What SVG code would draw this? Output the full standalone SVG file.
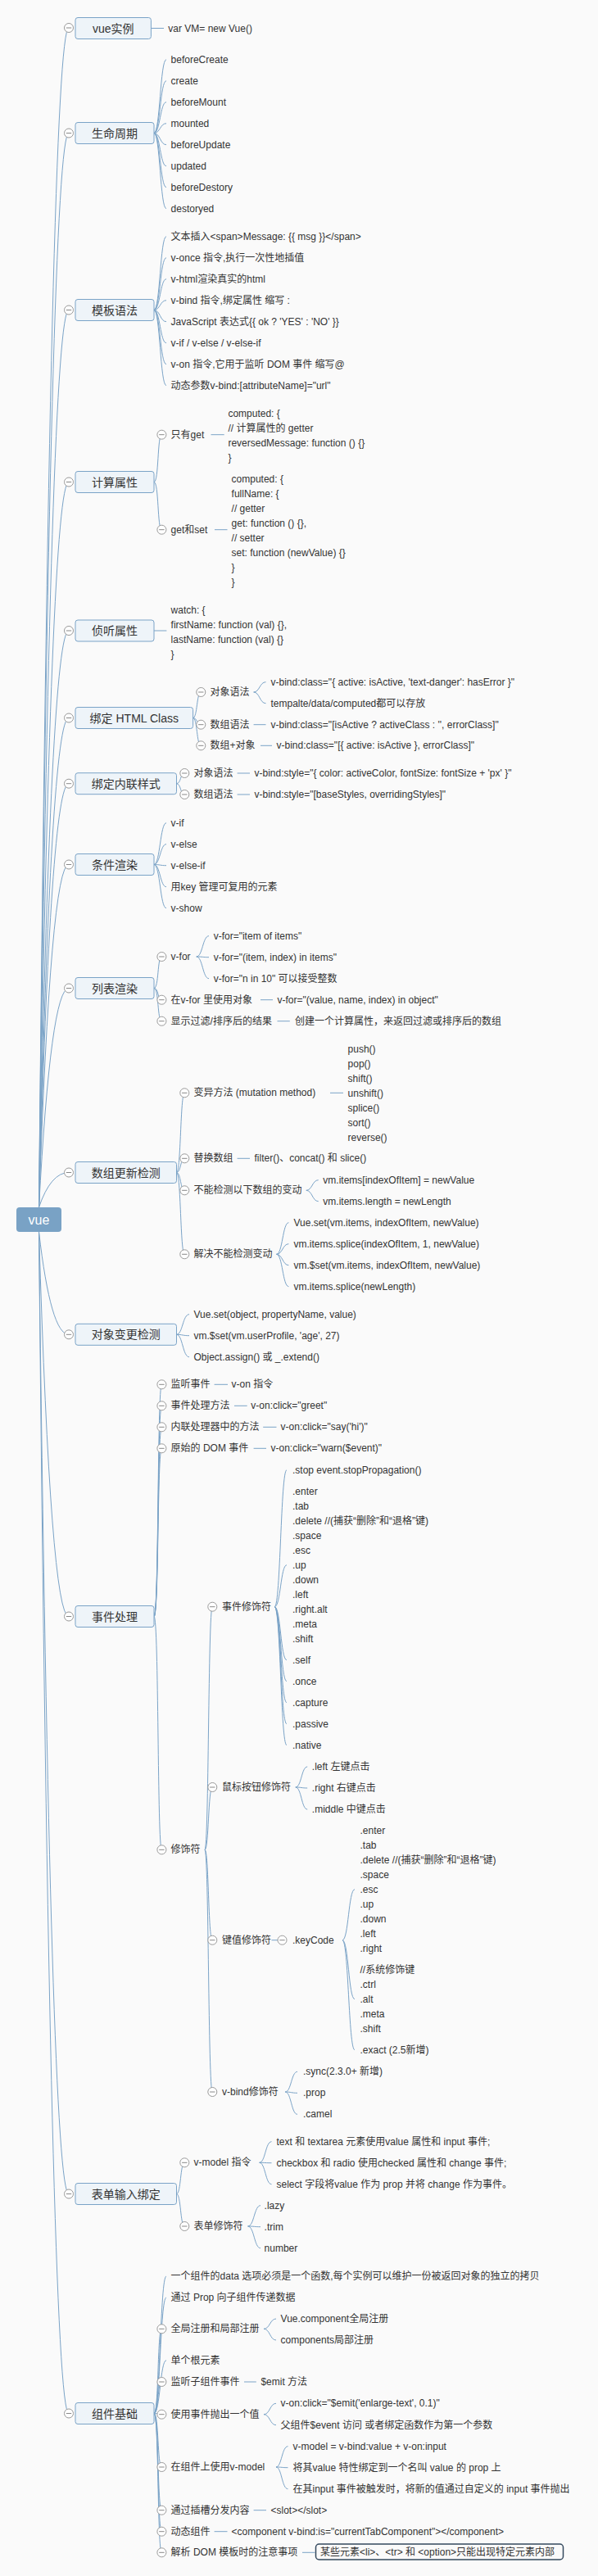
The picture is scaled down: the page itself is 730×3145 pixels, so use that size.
<svg xmlns="http://www.w3.org/2000/svg" xmlns:xlink="http://www.w3.org/1999/xlink" width="730" height="3145" viewBox="0 0 730 3145">
<style>
text{font-family:"Liberation Sans","Noto Sans CJK SC",sans-serif;font-size:12px;fill:#333}
.m{font-size:14px;text-anchor:middle}
.box{fill:#eef4f9;stroke:#7aa3c7;stroke-width:1}
.c path{fill:none;stroke:#7aa3c7;stroke-width:1}
.fc{fill:#fff;stroke:#999;stroke-width:1}
.fl{stroke:#888;stroke-width:1}
</style>
<defs>
<g id="fold"><circle class="fc" r="5.5"/><line class="fl" x1="-3.2" y1="0" x2="3.2" y2="0"/></g>
</defs>
<rect width="730" height="3145" fill="#fafafa"/>
<g id="connectors" class="c">
<path d="M47.5 1474Q62 34 84 34M47.5 1474Q62 162.5 84 162.5M47.5 1474Q62 378.5 84 378.5M47.5 1474Q62 588.5 84 588.5M47.5 1474Q62 770 84 770M47.5 1474Q62 876.5 84 876.5M47.5 1474Q62 956.7 84 956.7M47.5 1474Q62 1055.5 84 1055.5M47.5 1474Q62 1206.5 84 1206.5M47.5 1474Q62 1431.5 84 1431.5"/>
<path d="M47.5 1504Q62 1629.3 84 1629.3M47.5 1504Q62 1973.5 84 1973.5M47.5 1504Q62 2678.5 84 2678.5M47.5 1504Q62 2946.5 84 2946.5"/>
<path d="M184.4 34.5H200"/>
<path d="M188 162.5C195.5 162.5 195.5 72.7 203 72.7M188 162.5C195.5 162.5 195.5 98.7 203 98.7M188 162.5C195.5 162.5 195.5 124.7 203 124.7M188 162.5C195.5 162.5 195.5 150.7 203 150.7M188 162.5C195.5 162.5 195.5 176.7 203 176.7M188 162.5C195.5 162.5 195.5 202.7 203 202.7M188 162.5C195.5 162.5 195.5 228.7 203 228.7M188 162.5C195.5 162.5 195.5 254.7 203 254.7"/>
<path d="M188 378.5C195.5 378.5 195.5 288.7 203 288.7M188 378.5C195.5 378.5 195.5 314.7 203 314.7M188 378.5C195.5 378.5 195.5 340.7 203 340.7M188 378.5C195.5 378.5 195.5 366.7 203 366.7M188 378.5C195.5 378.5 195.5 392.7 203 392.7M188 378.5C195.5 378.5 195.5 418.7 203 418.7M188 378.5C195.5 378.5 195.5 444.7 203 444.7M188 378.5C195.5 378.5 195.5 470.7 203 470.7"/>
<path d="M188 588.5C194 588.5 192 530.7 197.4 530.7M188 588.5C194 588.5 192 646.7 197.4 646.7M257.5 530.7H273.7M262 646.7H277.5"/>
<path d="M188 770H203.4"/>
<path d="M235.6 876.5C241 876.5 240 845 245.3 845M235.6 876.5C241 876.5 240 884.7 245.3 884.7M235.6 876.5C241 876.5 240 910.3 245.3 910.3M309.6 845C317 845 317 832.7 324.5 832.7M309.6 845C317 845 317 858.7 324.5 858.7M309.6 884.7H324.5M318 910.3H332"/>
<path d="M215.5 956.7C221 956.7 220 944 225.3 944M215.5 956.7C221 956.7 220 970 225.3 970M289.6 944H305M289.6 970H305"/>
<path d="M188 1055.5C195.5 1055.5 195.5 1004.7 203 1004.7M188 1055.5C195.5 1055.5 195.5 1030.7 203 1030.7M188 1055.5C195.5 1055.5 195.5 1056.7 203 1056.7M188 1055.5C195.5 1055.5 195.5 1082.7 203 1082.7M188 1055.5C195.5 1055.5 195.5 1108.7 203 1108.7"/>
<path d="M188 1206.5C194 1206.5 192 1168 197.4 1168M188 1206.5C194 1206.5 192 1220.7 197.4 1220.7M188 1206.5C194 1206.5 192 1246.7 197.4 1246.7M239.8 1168C247.4 1168 247.4 1142.7 255 1142.7M239.8 1168C247.4 1168 247.4 1168.7 255 1168.7M239.8 1168C247.4 1168 247.4 1194.7 255 1194.7M318 1220.7H333M338.5 1246.7H353.8"/>
<path d="M215.5 1431.5C221 1431.5 220 1334.3 225.3 1334.3M215.5 1431.5C221 1431.5 220 1414.3 225.3 1414.3M215.5 1431.5C221 1431.5 220 1453.3 225.3 1453.3M215.5 1431.5C221 1431.5 220 1531.3 225.3 1531.3M403 1334.3H419M289.6 1414.3H305M373.8 1453.3C381.2 1453.3 381.2 1440.7 388.7 1440.7M373.8 1453.3C381.2 1453.3 381.2 1466.7 388.7 1466.7M337.5 1531.3C345 1531.3 345 1492.7 352.4 1492.7M337.5 1531.3C345 1531.3 345 1518.7 352.4 1518.7M337.5 1531.3C345 1531.3 345 1544.7 352.4 1544.7M337.5 1531.3C345 1531.3 345 1570.7 352.4 1570.7"/>
<path d="M215.5 1629.3C223 1629.3 223 1604.7 231 1604.7M215.5 1629.3C223 1629.3 223 1630.7 231 1630.7M215.5 1629.3C223 1629.3 223 1656.7 231 1656.7"/>
<path d="M188 1973.5C194 1973.5 192 1690.3 197.4 1690.3M188 1973.5C194 1973.5 192 1716.3 197.4 1716.3M188 1973.5C194 1973.5 192 1742.3 197.4 1742.3M188 1973.5C194 1973.5 192 1768.3 197.4 1768.3M188 1973.5C194 1973.5 192 2258.3 197.4 2258.3M261.6 1690.3H278M286 1716.3H301.7M321.2 1742.3H337.5M309.6 1768.3H325"/>
<path d="M250 2258.3C255 2258.3 254 1961.7 259.3 1961.7M250 2258.3C255 2258.3 254 2182 259.3 2182M250 2258.3C255 2258.3 254 2368.7 259.3 2368.7M250 2258.3C255 2258.3 254 2554 259.3 2554"/>
<path d="M335.2 1961.7C342.6 1961.7 342.6 1794.7 350 1794.7M335.2 1961.7C342.6 1961.7 342.6 1910.7 350 1910.7M335.2 1961.7C342.6 1961.7 342.6 2026.7 350 2026.7M335.2 1961.7C342.6 1961.7 342.6 2052.7 350 2052.7M335.2 1961.7C342.6 1961.7 342.6 2078.7 350 2078.7M335.2 1961.7C342.6 1961.7 342.6 2104.7 350 2104.7M335.2 1961.7C342.6 1961.7 342.6 2130.7 350 2130.7"/>
<path d="M360.8 2182C368 2182 368 2157 375.2 2157M360.8 2182C368 2182 368 2183 375.2 2183M360.8 2182C368 2182 368 2209 375.2 2209M331.5 2368.7H344.5M418 2368.7C425.5 2368.7 425.5 2306.7 433 2306.7M418 2368.7C425.5 2368.7 425.5 2440.7 433 2440.7M418 2368.7C425.5 2368.7 425.5 2502.7 433 2502.7M348.2 2554C355.6 2554 355.6 2529.3 363 2529.3M348.2 2554C355.6 2554 355.6 2555.3 363 2555.3M348.2 2554C355.6 2554 355.6 2581.3 363 2581.3"/>
<path d="M215.5 2678.5C221 2678.5 220 2640.3 225.3 2640.3M215.5 2678.5C221 2678.5 220 2718 225.3 2718M316.6 2640.3C324 2640.3 324 2614.7 331.5 2614.7M316.6 2640.3C324 2640.3 324 2640.7 331.5 2640.7M316.6 2640.3C324 2640.3 324 2666.7 331.5 2666.7M302.6 2718C310.3 2718 310.3 2692.7 318 2692.7M302.6 2718C310.3 2718 310.3 2718.7 318 2718.7M302.6 2718C310.3 2718 310.3 2744.7 318 2744.7"/>
<path d="M188 2946.5C195.5 2946.5 195.5 2779 203 2779M188 2946.5C195.5 2946.5 195.5 2805 203 2805M188 2946.5C194 2946.5 192 2843.3 197.4 2843.3M188 2946.5C195.5 2946.5 195.5 2881.7 203 2881.7M188 2946.5C194 2946.5 192 2908 197.4 2908M188 2946.5C194 2946.5 192 2947.7 197.4 2947.7M188 2946.5C194 2946.5 192 3012 197.4 3012M188 2946.5C194 2946.5 192 3064.7 197.4 3064.7M188 2946.5C194 2946.5 192 3090.7 197.4 3090.7M188 2946.5C194 2946.5 192 3116.3 197.4 3116.3"/>
<path d="M322 2843.3C329.5 2843.3 329.5 2831 337 2831M322 2843.3C329.5 2843.3 329.5 2857 337 2857M298 2908H312.8M322 2947.7C329.5 2947.7 329.5 2934.3 337 2934.3M322 2947.7C329.5 2947.7 329.5 2960.7 337 2960.7M337 3012C344 3012 344 2986.7 351.5 2986.7M337 3012C344 3012 344 3012.7 351.5 3012.7M337 3012C344 3012 344 3038.7 351.5 3038.7M309.6 3064.7H325M261.6 3090.7H277.5M369 3116.3H384.5"/>
</g>

<g id="root"><rect x="20" y="1474" width="55" height="30" rx="4" fill="#79a2c5"/><text x="47.5" y="1495" style="font-size:16px;fill:#fff;text-anchor:middle">vue</text></g>

<g id="m-instance"><rect class="box" x="92" y="21.5" width="92.4" height="26" rx="3"/><text class="m" x="138.2" y="39.5">vue实例</text><use href="#fold" x="84" y="34"/></g>
<g id="l-instance"><text x="205.3" y="38.5">var VM= new Vue()</text></g>

<g id="m-life"><rect class="box" x="92" y="149.5" width="96" height="26" rx="3"/><text class="m" x="140" y="167.5">生命周期</text><use href="#fold" x="84" y="162.5"/></g>
<g id="l-life"><text x="208.6" y="76.7">beforeCreate</text><text x="208.6" y="102.7">create</text><text x="208.6" y="128.7">beforeMount</text><text x="208.6" y="154.7">mounted</text><text x="208.6" y="180.7">beforeUpdate</text><text x="208.6" y="206.7">updated</text><text x="208.6" y="232.7">beforeDestory</text><text x="208.6" y="258.7">destoryed</text></g>

<g id="m-template"><rect class="box" x="92" y="365.5" width="96" height="26" rx="3"/><text class="m" x="140" y="383.5">模板语法</text><use href="#fold" x="84" y="378.5"/></g>
<g id="l-template"><text x="208.6" y="292.7">文本插入&lt;span&gt;Message: {{ msg }}&lt;/span&gt;</text><text x="208.6" y="318.7">v-once 指令,执行一次性地插值</text><text x="208.6" y="344.7">v-html渲染真实的html</text><text x="208.6" y="370.7">v-bind 指令,绑定属性 缩写 :</text><text x="208.6" y="396.7">JavaScript 表达式{{ ok ? 'YES' : 'NO' }}</text><text x="208.6" y="422.7">v-if / v-else / v-else-if</text><text x="208.6" y="448.7">v-on 指令,它用于监听 DOM 事件 缩写@</text><text x="208.6" y="474.7">动态参数v-bind:[attributeName]="url"</text></g>

<g id="m-computed"><rect class="box" x="92" y="575.5" width="96" height="26" rx="3"/><text class="m" x="140" y="593.5">计算属性</text><use href="#fold" x="84" y="588.5"/></g>
<g id="s-onlyget"><use href="#fold" x="197.4" y="530.7"/><text x="208.6" y="534.7">只有get</text></g>
<g id="l-onlyget"><text x="278.4" y="508.7">computed: {</text><text x="278.4" y="526.7">// 计算属性的 getter</text><text x="278.4" y="544.7">reversedMessage: function () {}</text><text x="278.4" y="562.7">}</text></g>
<g id="s-getset"><use href="#fold" x="197.4" y="646.7"/><text x="208.6" y="650.7">get和set</text></g>
<g id="l-getset"><text x="282.6" y="589">computed: {</text><text x="282.6" y="607">fullName: {</text><text x="282.6" y="625">// getter</text><text x="282.6" y="643">get: function () {},</text><text x="282.6" y="661">// setter</text><text x="282.6" y="679">set: function (newValue) {}</text><text x="282.6" y="697">}</text><text x="282.6" y="715">}</text></g>

<g id="m-watch"><rect class="box" x="92" y="757" width="96" height="26" rx="3"/><text class="m" x="140" y="775">侦听属性</text><use href="#fold" x="84" y="770"/></g>
<g id="l-watch"><text x="208.6" y="748.7">watch: {</text><text x="208.6" y="766.7">firstName: function (val) {},</text><text x="208.6" y="784.7">lastName: function (val) {}</text><text x="208.6" y="802.7">}</text></g>

<g id="m-class"><rect class="box" x="92" y="863.5" width="143.6" height="26" rx="3"/><text class="m" x="163.8" y="881.5">绑定 HTML Class</text><use href="#fold" x="84" y="876.5"/></g>
<g id="s-class-obj"><use href="#fold" x="245.3" y="845"/><text x="256.5" y="849">对象语法</text></g>
<g id="l-class-obj"><text x="330.5" y="836.7">v-bind:class="{ active: isActive, 'text-danger': hasError }"</text><text x="330.5" y="862.7">tempalte/data/computed都可以存放</text></g>
<g id="s-class-arr"><use href="#fold" x="245.3" y="884.7"/><text x="256.5" y="888.7">数组语法</text></g>
<g id="l-class-arr"><text x="330.5" y="888.7">v-bind:class="[isActive ? activeClass : '', errorClass]"</text></g>
<g id="s-class-mix"><use href="#fold" x="245.3" y="910.3"/><text x="256.5" y="914.3">数组+对象</text></g>
<g id="l-class-mix"><text x="337.5" y="914.3">v-bind:class="[{ active: isActive }, errorClass]"</text></g>

<g id="m-style"><rect class="box" x="92" y="943.7" width="123.5" height="26" rx="3"/><text class="m" x="153.7" y="961.7">绑定内联样式</text><use href="#fold" x="84" y="956.7"/></g>
<g id="s-style-obj"><use href="#fold" x="225.3" y="944"/><text x="236.5" y="948">对象语法</text></g>
<g id="l-style-obj"><text x="310.5" y="948">v-bind:style="{ color: activeColor, fontSize: fontSize + 'px' }"</text></g>
<g id="s-style-arr"><use href="#fold" x="225.3" y="970"/><text x="236.5" y="974">数组语法</text></g>
<g id="l-style-arr"><text x="310.5" y="974">v-bind:style="[baseStyles, overridingStyles]"</text></g>

<g id="m-if"><rect class="box" x="92" y="1042.5" width="96" height="26" rx="3"/><text class="m" x="140" y="1060.5">条件渲染</text><use href="#fold" x="84" y="1055.5"/></g>
<g id="l-if"><text x="208.6" y="1008.7">v-if</text><text x="208.6" y="1034.7">v-else</text><text x="208.6" y="1060.7">v-else-if</text><text x="208.6" y="1086.7">用key 管理可复用的元素</text><text x="208.6" y="1112.7">v-show</text></g>

<g id="m-list"><rect class="box" x="92" y="1193.5" width="96" height="26" rx="3"/><text class="m" x="140" y="1211.5">列表渲染</text><use href="#fold" x="84" y="1206.5"/></g>
<g id="s-vfor"><use href="#fold" x="197.4" y="1168"/><text x="208.6" y="1172">v-for</text></g>
<g id="l-vfor"><text x="260.7" y="1146.7">v-for="item of items"</text><text x="260.7" y="1172.7">v-for="(item, index) in items"</text><text x="260.7" y="1198.7">v-for="n in 10" 可以接受整数</text></g>
<g id="s-vfor-obj"><use href="#fold" x="197.4" y="1220.7"/><text x="208.6" y="1224.7">在v-for 里使用对象</text></g>
<g id="l-vfor-obj"><text x="338.5" y="1224.7">v-for="(value, name, index) in object"</text></g>
<g id="s-filter"><use href="#fold" x="197.4" y="1246.7"/><text x="208.6" y="1250.7">显示过滤/排序后的结果</text></g>
<g id="l-filter"><text x="359.9" y="1250.7">创建一个计算属性，来返回过滤或排序后的数组</text></g>

<g id="m-array"><rect class="box" x="92" y="1418.5" width="123.5" height="26" rx="3"/><text class="m" x="153.7" y="1436.5">数组更新检测</text><use href="#fold" x="84" y="1431.5"/></g>
<g id="s-mutation"><use href="#fold" x="225.3" y="1334.3"/><text x="236.5" y="1338.3">变异方法 (mutation method)</text></g>
<g id="l-mutation"><text x="424.6" y="1284.7">push()</text><text x="424.6" y="1302.7">pop()</text><text x="424.6" y="1320.7">shift()</text><text x="424.6" y="1338.7">unshift()</text><text x="424.6" y="1356.7">splice()</text><text x="424.6" y="1374.7">sort()</text><text x="424.6" y="1392.7">reverse()</text></g>
<g id="s-replace"><use href="#fold" x="225.3" y="1414.3"/><text x="236.5" y="1418.3">替换数组</text></g>
<g id="l-replace"><text x="310.5" y="1418.3">filter()、concat() 和 slice()</text></g>
<g id="s-cannot"><use href="#fold" x="225.3" y="1453.3"/><text x="236.5" y="1457.3">不能检测以下数组的变动</text></g>
<g id="l-cannot"><text x="394.3" y="1444.7">vm.items[indexOfItem] = newValue</text><text x="394.3" y="1470.7">vm.items.length = newLength</text></g>
<g id="s-solve"><use href="#fold" x="225.3" y="1531.3"/><text x="236.5" y="1535.3">解决不能检测变动</text></g>
<g id="l-solve"><text x="358.5" y="1496.7">Vue.set(vm.items, indexOfItem, newValue)</text><text x="358.5" y="1522.7">vm.items.splice(indexOfItem, 1, newValue)</text><text x="358.5" y="1548.7">vm.$set(vm.items, indexOfItem, newValue)</text><text x="358.5" y="1574.7">vm.items.splice(newLength)</text></g>

<g id="m-object"><rect class="box" x="92" y="1616.3" width="123.5" height="26" rx="3"/><text class="m" x="153.7" y="1634.3">对象变更检测</text><use href="#fold" x="84" y="1629.3"/></g>
<g id="l-object"><text x="236.5" y="1608.7">Vue.set(object, propertyName, value)</text><text x="236.5" y="1634.7">vm.$set(vm.userProfile, 'age', 27)</text><text x="236.5" y="1660.7">Object.assign() 或 _.extend()</text></g>

<g id="m-event"><rect class="box" x="92" y="1960.5" width="96" height="26" rx="3"/><text class="m" x="140" y="1978.5">事件处理</text><use href="#fold" x="84" y="1973.5"/></g>
<g id="s-listen"><use href="#fold" x="197.4" y="1690.3"/><text x="208.6" y="1694.3">监听事件</text></g>
<g id="l-listen"><text x="282.6" y="1694.3">v-on 指令</text></g>
<g id="s-handler"><use href="#fold" x="197.4" y="1716.3"/><text x="208.6" y="1720.3">事件处理方法</text></g>
<g id="l-handler"><text x="306.3" y="1720.3">v-on:click="greet"</text></g>
<g id="s-inline"><use href="#fold" x="197.4" y="1742.3"/><text x="208.6" y="1746.3">内联处理器中的方法</text></g>
<g id="l-inline"><text x="342.6" y="1746.3">v-on:click="say('hi')"</text></g>
<g id="s-dom"><use href="#fold" x="197.4" y="1768.3"/><text x="208.6" y="1772.3">原始的 DOM 事件</text></g>
<g id="l-dom"><text x="330.5" y="1772.3">v-on:click="warn($event)"</text></g>
<g id="s-modifier"><use href="#fold" x="197.4" y="2258.3"/><text x="208.6" y="2262.3">修饰符</text></g>
<g id="s-evmod"><use href="#fold" x="259.3" y="1961.7"/><text x="271" y="1965.7">事件修饰符</text></g>
<g id="l-evmod"><text x="357" y="1798.7">.stop event.stopPropagation()</text>
<text x="357" y="1824.7">.enter</text><text x="357" y="1842.7">.tab</text><text x="357" y="1860.7">.delete //(捕获“删除”和“退格”键)</text><text x="357" y="1878.7">.space</text><text x="357" y="1896.7">.esc</text><text x="357" y="1914.7">.up</text><text x="357" y="1932.7">.down</text><text x="357" y="1950.7">.left</text><text x="357" y="1968.7">.right.alt</text><text x="357" y="1986.7">.meta</text><text x="357" y="2004.7">.shift</text>
<text x="357" y="2030.7">.self</text><text x="357" y="2056.7">.once</text><text x="357" y="2082.7">.capture</text><text x="357" y="2108.7">.passive</text><text x="357" y="2134.7">.native</text></g>
<g id="s-mouse"><use href="#fold" x="259.3" y="2182"/><text x="271" y="2186">鼠标按钮修饰符</text></g>
<g id="l-mouse"><text x="380.8" y="2161">.left 左键点击</text><text x="380.8" y="2187">.right 右键点击</text><text x="380.8" y="2213">.middle 中键点击</text></g>
<g id="s-keymod"><use href="#fold" x="259.3" y="2368.7"/><text x="271" y="2372.7">键值修饰符</text></g>
<g id="s-keycode"><use href="#fold" x="344.5" y="2368.7"/><text x="357" y="2372.7">.keyCode</text></g>
<g id="l-keycode"><text x="439.5" y="2238.7">.enter</text><text x="439.5" y="2256.7">.tab</text><text x="439.5" y="2274.7">.delete //(捕获“删除”和“退格”键)</text><text x="439.5" y="2292.7">.space</text><text x="439.5" y="2310.7">.esc</text><text x="439.5" y="2328.7">.up</text><text x="439.5" y="2346.7">.down</text><text x="439.5" y="2364.7">.left</text><text x="439.5" y="2382.7">.right</text>
<text x="439.5" y="2408.7">//系统修饰键</text><text x="439.5" y="2426.7">.ctrl</text><text x="439.5" y="2444.7">.alt</text><text x="439.5" y="2462.7">.meta</text><text x="439.5" y="2480.7">.shift</text>
<text x="439.5" y="2506.7">.exact (2.5新增)</text></g>
<g id="s-vbindmod"><use href="#fold" x="259.3" y="2554"/><text x="271" y="2558">v-bind修饰符</text></g>
<g id="l-vbindmod"><text x="370" y="2533.3">.sync(2.3.0+ 新增)</text><text x="370" y="2559.3">.prop</text><text x="370" y="2585.3">.camel</text></g>

<g id="m-form"><rect class="box" x="92" y="2665.5" width="123.5" height="26" rx="3"/><text class="m" x="153.7" y="2683.5">表单输入绑定</text><use href="#fold" x="84" y="2678.5"/></g>
<g id="s-vmodel"><use href="#fold" x="225.3" y="2640.3"/><text x="236.5" y="2644.3">v-model 指令</text></g>
<g id="l-vmodel"><text x="337.5" y="2618.7">text 和 textarea 元素使用value 属性和 input 事件;</text><text x="337.5" y="2644.7">checkbox 和 radio 使用checked 属性和 change 事件;</text><text x="337.5" y="2670.7">select 字段将value 作为 prop 并将 change 作为事件。</text></g>
<g id="s-formmod"><use href="#fold" x="225.3" y="2718"/><text x="236.5" y="2722">表单修饰符</text></g>
<g id="l-formmod"><text x="322.6" y="2696.7">.lazy</text><text x="322.6" y="2722.7">.trim</text><text x="322.6" y="2748.7">number</text></g>

<g id="m-comp"><rect class="box" x="92" y="2933.5" width="96" height="26" rx="3"/><text class="m" x="140" y="2951.5">组件基础</text><use href="#fold" x="84" y="2946.5"/></g>
<g id="l-comp-data"><text x="208.6" y="2783">一个组件的data 选项必须是一个函数,每个实例可以维护一份被返回对象的独立的拷贝</text></g>
<g id="l-comp-prop"><text x="208.6" y="2809">通过 Prop 向子组件传递数据</text></g>
<g id="s-reg"><use href="#fold" x="197.4" y="2843.3"/><text x="208.6" y="2847.3">全局注册和局部注册</text></g>
<g id="l-reg"><text x="342.6" y="2835">Vue.component全局注册</text><text x="342.6" y="2861">components局部注册</text></g>
<g id="l-comp-root"><text x="208.6" y="2885.7">单个根元素</text></g>
<g id="s-emit"><use href="#fold" x="197.4" y="2908"/><text x="208.6" y="2912">监听子组件事件</text></g>
<g id="l-emit"><text x="318.4" y="2912">$emit 方法</text></g>
<g id="s-emitval"><use href="#fold" x="197.4" y="2947.7"/><text x="208.6" y="2951.7">使用事件抛出一个值</text></g>
<g id="l-emitval"><text x="342.6" y="2938.3">v-on:click="$emit('enlarge-text', 0.1)"</text><text x="342.6" y="2964.7">父组件$event 访问 或者绑定函数作为第一个参数</text></g>
<g id="s-compmodel"><use href="#fold" x="197.4" y="3012"/><text x="208.6" y="3016">在组件上使用v-model</text></g>
<g id="l-compmodel"><text x="357.5" y="2990.7">v-model = v-bind:value + v-on:input</text><text x="357.5" y="3016.7">将其value 特性绑定到一个名叫 value 的 prop 上</text><text x="357.5" y="3042.7">在其input 事件被触发时，将新的值通过自定义的 input 事件抛出</text></g>
<g id="s-slot"><use href="#fold" x="197.4" y="3064.7"/><text x="208.6" y="3068.7">通过插槽分发内容</text></g>
<g id="l-slot"><text x="330.5" y="3068.7">&lt;slot&gt;&lt;/slot&gt;</text></g>
<g id="s-dyn"><use href="#fold" x="197.4" y="3090.7"/><text x="208.6" y="3094.7">动态组件</text></g>
<g id="l-dyn"><text x="282.6" y="3094.7">&lt;component v-bind:is="currentTabComponent"&gt;&lt;/component&gt;</text></g>
<g id="s-parse"><use href="#fold" x="197.4" y="3116.3"/><text x="208.6" y="3120.3">解析 DOM 模板时的注意事项</text></g>
<g id="l-parse"><rect x="385.5" y="3106" width="302" height="19" rx="4" fill="none" stroke="#34495e" stroke-width="1.5"/><text x="391" y="3120.3">某些元素&lt;li&gt;、&lt;tr&gt; 和 &lt;option&gt;只能出现特定元素内部</text></g>
</svg>
